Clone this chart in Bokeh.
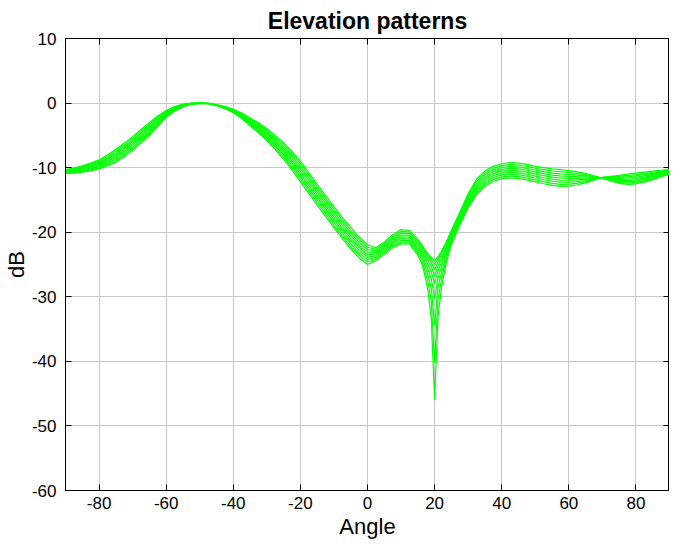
from bokeh.plotting import figure
from bokeh.models import LinearAxis, FixedTicker, Range1d, CustomJSTickFormatter
from bokeh.embed import file_html
from bokeh.resources import INLINE

angle = [-90, -87.5, -85, -82.5, -80, -77.5, -75, -72.5, -70,
         -67.5, -65, -62.5, -60, -57.5, -55, -52.5, -50,
         -47.5, -45, -42.5, -40, -37.5, -35, -32.5, -30,
         -27.5, -25, -22.5, -20, -17.5, -15, -12.5, -10,
         -7.5, -5, -2.5, 0, 2.5, 5, 7.5, 10, 12.5,
         15, 16, 17, 18, 19, 20, 21, 22, 23, 24, 25,
         27.5, 30, 32.5, 35, 37.5, 40, 42.5, 45, 47.5, 50,
         52.5, 55, 57.5, 60, 62.5, 65, 67.5, 70, 72.5, 75, 77.5, 80, 82.5, 85, 87.5, 90]

pattern_1 = [-10.30, -10.05, -9.70, -9.30, -8.80, -8.05, -7.15, -6.20, -5.20,
             -4.10, -3.05, -2.00, -1.15, -0.55, -0.17, -0.02, 0.00,
             -0.05, -0.25, -0.55, -0.95, -1.55, -2.30, -3.05, -3.95,
             -5.00, -6.15, -7.50, -9.00, -10.75, -12.60, -14.35, -16.05,
             -17.70, -19.25, -20.75, -21.95, -22.40, -21.50, -20.40, -19.60, -19.70,
             -21.10, -21.8, -22.6, -23.3, -23.9, -24.4, -23.8, -23.0, -22.0, -20.9, -19.7,
             -16.90, -14.00, -11.80, -10.50, -9.80, -9.40, -9.20, -9.30, -9.50, -9.80,
             -10.00, -10.20, -10.30, -10.45, -10.65, -10.90, -11.25, -11.65, -12.05, -12.45, -12.60, -12.50, -12.25, -11.85, -11.40, -11.00]
pattern_2 = [-10.38, -10.15, -9.83, -9.45, -8.98, -8.26, -7.40, -6.46, -5.46,
             -4.36, -3.29, -2.20, -1.28, -0.64, -0.22, -0.04, -0.01,
             -0.05, -0.27, -0.59, -1.02, -1.66, -2.45, -3.24, -4.18,
             -5.28, -6.47, -7.86, -9.40, -11.16, -13.00, -14.75, -16.46,
             -18.11, -19.67, -21.16, -22.33, -22.65, -21.74, -20.65, -19.88, -19.96,
             -21.41, -22.0, -22.8, -23.6, -24.2, -25.0, -24.1, -23.3, -22.2, -21.1, -19.9,
             -17.15, -14.28, -12.10, -10.80, -10.09, -9.69, -9.50, -9.60, -9.80, -10.10,
             -10.31, -10.52, -10.63, -10.75, -10.90, -11.08, -11.34, -11.63, -11.96, -12.29, -12.40, -12.29, -12.06, -11.69, -11.28, -10.91]
pattern_3 = [-10.45, -10.25, -9.95, -9.60, -9.15, -8.48, -7.65, -6.73, -5.73,
             -4.63, -3.54, -2.40, -1.41, -0.73, -0.28, -0.06, -0.01,
             -0.06, -0.29, -0.63, -1.09, -1.76, -2.60, -3.44, -4.41,
             -5.55, -6.79, -8.23, -9.80, -11.56, -13.40, -15.15, -16.86,
             -18.53, -20.09, -21.56, -22.71, -22.90, -21.98, -20.90, -20.15, -20.23,
             -21.73, -22.3, -23.1, -23.9, -24.7, -25.8, -24.6, -23.6, -22.5, -21.3, -20.1,
             -17.40, -14.55, -12.40, -11.10, -10.38, -9.98, -9.80, -9.90, -10.10, -10.40,
             -10.63, -10.84, -10.95, -11.05, -11.15, -11.26, -11.43, -11.61, -11.88, -12.14, -12.20, -12.09, -11.86, -11.53, -11.15, -10.81]
pattern_4 = [-10.53, -10.35, -10.08, -9.75, -9.33, -8.69, -7.90, -6.99, -5.99,
             -4.89, -3.78, -2.60, -1.54, -0.81, -0.33, -0.08, -0.02,
             -0.06, -0.31, -0.66, -1.16, -1.87, -2.75, -3.63, -4.64,
             -5.83, -7.11, -8.59, -10.20, -11.97, -13.80, -15.55, -17.27,
             -18.94, -20.51, -21.97, -23.09, -23.15, -22.21, -21.15, -20.43, -20.49,
             -22.04, -22.6, -23.5, -24.4, -25.3, -26.8, -25.2, -24.1, -22.9, -21.6, -20.3,
             -17.65, -14.83, -12.70, -11.40, -10.66, -10.26, -10.10, -10.20, -10.40, -10.70,
             -10.94, -11.16, -11.28, -11.35, -11.40, -11.44, -11.51, -11.59, -11.79, -11.98, -12.00, -11.88, -11.67, -11.36, -11.03, -10.72]
pattern_5 = [-10.60, -10.45, -10.20, -9.90, -9.50, -8.90, -8.15, -7.25, -6.25,
             -5.15, -4.03, -2.80, -1.68, -0.90, -0.39, -0.10, -0.03,
             -0.07, -0.33, -0.70, -1.23, -1.98, -2.90, -3.83, -4.88,
             -6.10, -7.43, -8.95, -10.60, -12.38, -14.20, -15.95, -17.68,
             -19.35, -20.93, -22.38, -23.48, -23.40, -22.45, -21.40, -20.70, -20.75,
             -22.35, -22.9, -23.9, -25.0, -26.1, -28.0, -26.0, -24.7, -23.3, -21.9, -20.6,
             -17.90, -15.10, -13.00, -11.70, -10.95, -10.55, -10.40, -10.50, -10.70, -11.00,
             -11.25, -11.48, -11.60, -11.65, -11.65, -11.63, -11.60, -11.58, -11.70, -11.83, -11.80, -11.68, -11.48, -11.20, -10.90, -10.63]
pattern_6 = [-10.68, -10.55, -10.33, -10.05, -9.68, -9.11, -8.40, -7.51, -6.51,
             -5.41, -4.27, -3.00, -1.81, -0.99, -0.44, -0.12, -0.03,
             -0.07, -0.34, -0.74, -1.29, -2.08, -3.05, -4.02, -5.11,
             -6.38, -7.74, -9.31, -11.00, -12.78, -14.60, -16.35, -18.08,
             -19.76, -21.34, -22.78, -23.86, -23.65, -22.69, -21.65, -20.98, -21.01,
             -22.66, -23.3, -24.4, -25.7, -27.2, -30.3, -27.1, -25.4, -23.8, -22.3, -20.9,
             -18.15, -15.38, -13.30, -12.00, -11.24, -10.84, -10.70, -10.80, -11.00, -11.30,
             -11.56, -11.79, -11.93, -11.95, -11.90, -11.81, -11.69, -11.56, -11.61, -11.67, -11.60, -11.47, -11.28, -11.04, -10.78, -10.53]
pattern_7 = [-10.75, -10.65, -10.45, -10.20, -9.85, -9.33, -8.65, -7.78, -6.78,
             -5.68, -4.51, -3.20, -1.94, -1.08, -0.49, -0.14, -0.04,
             -0.07, -0.36, -0.78, -1.36, -2.19, -3.20, -4.21, -5.34,
             -6.65, -8.06, -9.68, -11.40, -13.19, -15.00, -16.75, -18.49,
             -20.18, -21.76, -23.19, -24.24, -23.90, -22.93, -21.90, -21.25, -21.28,
             -22.98, -23.7, -25.0, -26.6, -28.6, -34.5, -28.5, -26.3, -24.4, -22.7, -21.2,
             -18.40, -15.65, -13.60, -12.30, -11.53, -11.13, -11.00, -11.10, -11.30, -11.60,
             -11.88, -12.11, -12.25, -12.25, -12.15, -11.99, -11.78, -11.54, -11.53, -11.51, -11.40, -11.26, -11.09, -10.88, -10.65, -10.44]
pattern_8 = [-10.83, -10.75, -10.58, -10.35, -10.03, -9.54, -8.90, -8.04, -7.04,
             -5.94, -4.76, -3.40, -2.07, -1.16, -0.55, -0.16, -0.04,
             -0.08, -0.38, -0.81, -1.43, -2.29, -3.35, -4.41, -5.57,
             -6.93, -8.38, -10.04, -11.80, -13.59, -15.40, -17.15, -18.89,
             -20.59, -22.18, -23.59, -24.62, -24.15, -23.16, -22.15, -21.53, -21.54,
             -23.29, -24.1, -25.7, -27.7, -30.6, -40.3, -30.5, -27.4, -25.1, -23.2, -21.5,
             -18.65, -15.93, -13.90, -12.60, -11.81, -11.41, -11.30, -11.40, -11.60, -11.90,
             -12.19, -12.43, -12.58, -12.55, -12.40, -12.17, -11.86, -11.52, -11.44, -11.36, -11.20, -11.06, -10.89, -10.71, -10.53, -10.34]
pattern_9 = [-10.90, -10.85, -10.70, -10.50, -10.20, -9.75, -9.15, -8.30, -7.30,
             -6.20, -5.00, -3.60, -2.20, -1.25, -0.60, -0.18, -0.05,
             -0.08, -0.40, -0.85, -1.50, -2.40, -3.50, -4.60, -5.80,
             -7.20, -8.70, -10.40, -12.20, -14.00, -15.80, -17.55, -19.30,
             -21.00, -22.60, -24.00, -25.00, -24.40, -23.40, -22.40, -21.80, -21.80,
             -23.60, -24.6, -26.5, -29.0, -33.3, -46.0, -33.2, -28.7, -25.9, -23.7, -21.9,
             -18.90, -16.20, -14.20, -12.90, -12.10, -11.70, -11.60, -11.70, -11.90, -12.20,
             -12.50, -12.75, -12.90, -12.85, -12.65, -12.35, -11.95, -11.50, -11.35, -11.20, -11.00, -10.85, -10.70, -10.55, -10.40, -10.25]

patterns = [pattern_1, pattern_2, pattern_3, pattern_4, pattern_5,
            pattern_6, pattern_7, pattern_8, pattern_9]

x_ticks = [-80, -60, -40, -20, 0, 20, 40, 60, 80]
y_ticks = [-60, -50, -40, -30, -20, -10, 0, 10]

FONT = "Liberation Sans"

p = figure(width=669, height=541, output_backend="svg", toolbar_location=None,
           x_range=Range1d(-90, 90), y_range=Range1d(-60, 10),
           min_border_left=59, min_border_right=0, min_border_top=30, min_border_bottom=50)

p.title.text = "Elevation patterns"
p.title.text_font = FONT
p.title.text_font_size = "23px"
p.title.text_font_style = "bold"
p.title.align = "center"
p.title.offset = 14
p.title.text_color = "black"

for ys in patterns:
    p.line(angle, ys, line_color="#00ff00", line_width=1.2)

p.xaxis.ticker = FixedTicker(ticks=x_ticks)
p.yaxis.ticker = FixedTicker(ticks=y_ticks)
p.xaxis.formatter = CustomJSTickFormatter(code="return tick.toString();")
p.yaxis.formatter = CustomJSTickFormatter(code="return tick.toString();")
for ax in [p.xaxis[0], p.yaxis[0]]:
    ax.major_tick_in = 6
    ax.major_tick_out = 0
    ax.minor_tick_line_color = None
    ax.axis_line_color = "black"
    ax.major_tick_line_color = "black"
    ax.major_label_text_font = FONT
    ax.major_label_text_font_size = "17px"
    ax.major_label_text_color = "black"
    ax.axis_label_text_font = FONT
    ax.axis_label_text_font_size = "22px"
    ax.axis_label_text_font_style = "normal"
    ax.axis_label_text_color = "black"
p.xaxis.axis_label = "Angle"
p.yaxis.axis_label = "dB"
p.xaxis.major_label_standoff = 6
p.yaxis.major_label_standoff = 9
p.xaxis.axis_label_standoff = 2
p.yaxis.axis_label_standoff = 0

for loc, ticks in [("above", x_ticks), ("right", y_ticks)]:
    ax = LinearAxis(ticker=FixedTicker(ticks=ticks), major_tick_in=6, major_tick_out=0,
                    minor_tick_line_color=None,
                    formatter=CustomJSTickFormatter(code="return '';"),
                    major_label_standoff=0, axis_line_color="black")
    p.add_layout(ax, loc)

p.grid.grid_line_color = "#c8c8c8"
p.grid.grid_line_alpha = 1.0
p.xgrid.ticker = FixedTicker(ticks=x_ticks)
p.ygrid.ticker = FixedTicker(ticks=y_ticks)
p.outline_line_color = "black"
p.background_fill_color = "white"
p.border_fill_color = "white"

open("out.html", "w").write(file_html(p, INLINE))
